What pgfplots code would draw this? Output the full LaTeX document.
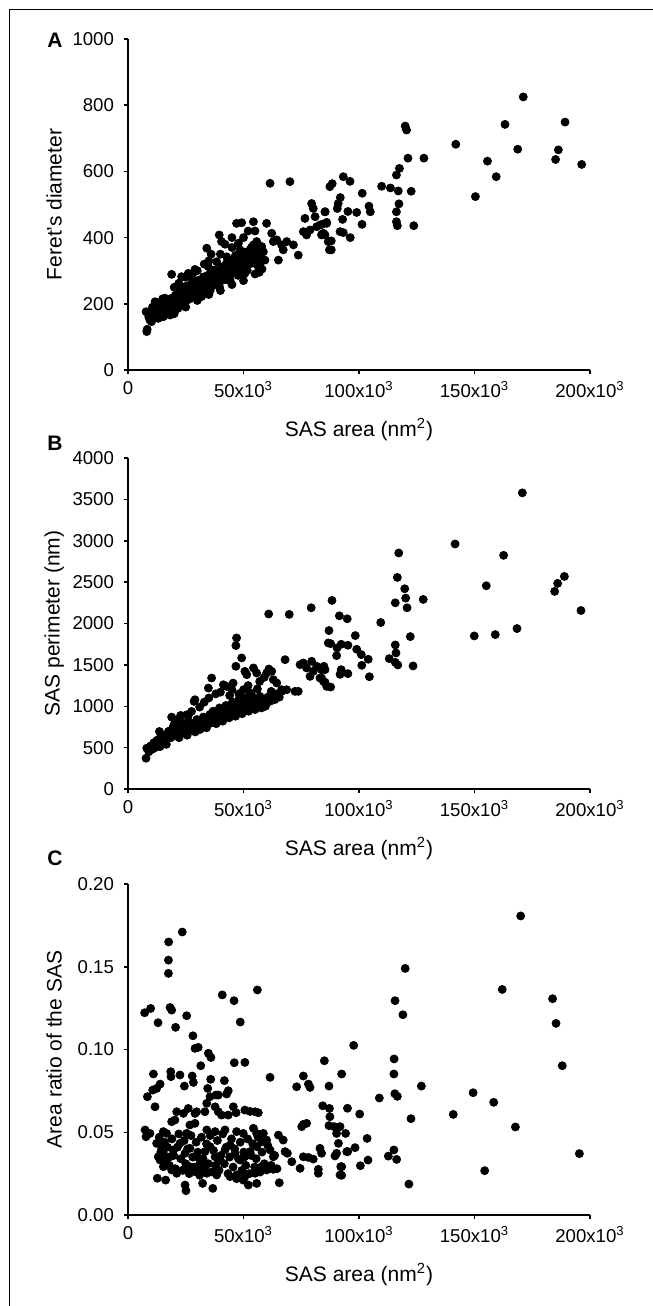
\documentclass[border=0pt]{standalone}
\usepackage{fontspec}
\setmainfont{Liberation Sans}
\usepackage{pgfplots}
\pgfplotsset{compat=1.18}

% 1 px of the reference = 0.5pt
\pgfplotsset{
  panel/.style={
    scale only axis, width=231pt, height=165.5pt,
    axis x line*=bottom, axis y line*=left,
    axis line style={line width=0.75pt, -},
    tick align=outside, major tick length=2pt,
    tick style={line width=0.75pt, black},
    xmin=0, xmax=200, xtick={0,50,100,150,200},
    xticklabels={0, 50x10\textsuperscript{3}, 100x10\textsuperscript{3}, 150x10\textsuperscript{3}, 200x10\textsuperscript{3}},
    tick label style={font=\fontsize{9.3}{10}\selectfont},
    label style={font=\fontsize{10.5}{12}\selectfont},
    xlabel={SAS area (nm\textsuperscript{2})},
    x label style={at={(axis description cs:0.5,-0.181)}, anchor=center},
    y label style={at={(axis description cs:-0.16,0.5)}, anchor=center},
    yticklabel style={xshift=-1.5pt},
    /pgf/number format/assume math mode=true,
    /pgf/number format/1000 sep={},
  },
  dots/.style={only marks, mark=*, mark size=2pt, black},
}

\begin{document}
\begin{tikzpicture}
\useasboundingbox (0,0) rectangle (326.5pt,-653pt);
\draw[line width=0.6pt] (326.5pt,-4.6pt) -- (4.6pt,-4.6pt) -- (4.6pt,-653pt);

\node[font=\fontsize{10.5}{12}\selectfont\bfseries] at (27.5pt,-20pt) {A};
\node[font=\fontsize{10.5}{12}\selectfont\bfseries] at (27.5pt,-221.5pt) {B};
\node[font=\fontsize{10.5}{12}\selectfont\bfseries] at (27.5pt,-429pt) {C};

% ---------------- A ----------------
\begin{axis}[panel, at={(64pt,-185pt)}, anchor=south west,
  ymin=0, ymax=1000, ytick={0,200,...,1000}, ylabel={Feret's diameter}]
\addplot[dots] coordinates {
(171.1,825) (163.2,742) (189.2,749) (141.9,682) (168.7,667) (186.3,665) (185.1,636) (196.4,621)
(155.6,631) (159.4,584) (150.4,524)
(120.0,737) (120.6,725) (121.2,640) (128.1,640) (117.5,609) (116.2,589) (117.0,541) (122.6,540)
(117.3,502) (116.2,478) (116.2,448) (116.6,436) (123.7,436) (113.6,550) (109.8,555) (101.4,534)
(104.3,495) (104.9,478) (101.3,440) (93.2,584) (96.1,570) (88.4,563) (87.4,554) (91.9,521)
(91.0,503) (90.6,488) (85.3,478) (95.2,479) (99.0,476) (92.9,455) (86.0,446) (83.9,440)
(91.8,418) (93.2,415) (83.9,410) (85.3,408) (96.2,400) (88.0,390) (88.0,363)
(8.1,116) (8.3,123) (7.8,176) (9.5,151) (10.2,146) (11.7,206) (12.4,171) (13.9,176) (15.3,161)
(16.7,181) (18.2,166) (16.0,217) (17.5,201) (19.6,191) (21.1,211) (18.9,289) (23.2,282) (22.5,242)
(24.0,232) (26.1,292) (24.7,252) (26.8,222) (28.3,272) (29.0,304) (29.7,242) (31.2,262) (31.9,222)
(33.3,242) (34.1,368) (35.5,272) (36.2,287) (34.8,312) (37.7,302) (38.4,327) (39.5,408) (40.5,388)
(39.1,262) (41.3,312) (42.7,342) (43.4,302) (44.2,272) (44.9,317) (45.6,302) (47.0,332) (47.8,383)
(48.5,363) (49.9,332) (50.6,292) (51.4,312) (52.1,342) (52.8,363) (54.3,378) (55.7,388) (56.4,312)
(57.1,322) (57.9,373) (58.6,357) (59.3,332) (60.0,443) (47.0,443) (49.2,445) (54.3,448) (62.2,413)
(62.9,388) (64.4,393) (65.1,332) (66.5,378) (67.2,363) (68.7,388) (71.6,378) (73.7,347) (75.9,418)
(76.6,458) (77.3,408) (78.8,423) (79.5,503) (80.2,488) (81.0,463) (81.7,433) (83.1,438) (83.8,408)
(84.6,413) (85.3,478) (86.0,443) (86.7,388) (87.2,363) (61.5,564) (70.1,569)
(9.0,160) (10.0,175) (10.6,190) (11.0,158) (11.5,182) (12.0,165) (12.6,196) (13.1,156) (13.5,186)
(14.1,170) (14.6,200) (15.0,178) (15.6,191) (16.2,169) (16.6,206) (17.1,186) (17.8,176) (18.1,196)
(18.6,216) (19.1,181) (19.5,206) (20.1,191) (20.5,226) (21.0,201) (21.6,186) (22.0,216) (23.0,206)
(23.5,231) (24.2,196) (24.6,221) (25.1,241) (25.6,211) (26.0,231) (26.6,256) (27.1,216) (27.5,246)
(28.0,231) (28.6,261) (29.2,221) (29.5,251) (30.1,236) (30.6,271) (31.0,246) (31.6,226) (32.0,256)
(32.6,281) (33.0,241) (33.6,266) (34.0,251) (34.5,286) (35.0,261) (35.6,241) (36.0,276) (36.6,301)
(37.1,256) (37.6,281) (38.0,266) (38.6,296) (39.0,276) (39.6,251) (40.0,286) (40.6,311) (41.0,271)
(41.6,296) (42.0,281) (42.5,321) (43.0,291) (43.6,271) (44.0,306) (44.6,331) (45.0,291) (45.5,316)
(46.0,301) (46.5,346) (47.3,311) (47.6,286) (48.0,321) (48.6,341) (49.0,301) (49.6,326) (50.0,311)
(50.5,356) (51.0,331) (51.6,301) (52.0,346) (53.0,321) (53.5,371) (54.0,336) (55.0,351) (55.5,321)
(56.0,366) (57.0,341) (58.0,305) (56.8,295)
(25.0,280) (30.0,300) (35.0,330) (40.0,350) (45.0,370) (42.0,380) (50.0,400) (52.0,420) (55.0,420)
(45.0,400) (36.0,350) (33.0,320) (28.0,290) (22.0,262) (20.0,250) (15.0,215) (12.0,205)
(20.0,170) (25.0,190) (30.0,210) (35.0,228) (40.0,240) (45.0,258) (50.0,270) (55.0,290)
};
\end{axis}

% ---------------- B ----------------
\begin{axis}[panel, at={(64pt,-394.5pt)}, anchor=south west,
  ymin=0, ymax=4000, ytick={0,500,...,4000}, ylabel={SAS perimeter (nm)}]
\addplot[dots] coordinates {
(170.7,3579) (141.6,2961) (162.6,2824) (155.1,2456) (188.9,2569) (186.0,2485) (184.7,2388) (196.1,2157)
(149.9,1850) (159.0,1866) (168.4,1939)
(117.2,2852) (116.6,2557) (119.8,2420) (120.2,2307) (115.7,2250) (120.8,2190) (127.8,2291) (109.4,2012)
(122.2,1842) (115.7,1741) (116.0,1644) (113.1,1576) (115.7,1531) (116.8,1499) (123.4,1487)
(88.3,2279) (91.5,2093) (94.9,2057) (87.0,1915) (98.4,1854) (87.7,1757) (90.3,1612) (90.5,1705)
(92.3,1749) (95.2,1737) (99.0,1689) (101.0,1624) (104.0,1568) (101.2,1495) (104.5,1357) (92.3,1442)
(91.8,1386) (95.2,1394) (84.8,1483) (85.3,1442) (83.8,1341) (85.3,1289) (87.7,1232)
(60.9,2115) (69.8,2110) (79.3,2190)
(7.8,372) (8.1,493) (9.5,473) (12.4,554) (11.0,533) (13.9,513) (18.9,869) (22.8,889) (13.6,695)
(17.5,695) (19.6,755) (21.1,836) (24.0,796) (25.4,897) (27.5,937) (29.0,1079) (28.6,1059) (34.8,1220)
(36.2,1341) (41.3,1260) (42.7,1240) (47.0,1826) (46.7,1733) (49.2,1584) (46.7,1483) (50.6,1422)
(51.4,1382) (54.3,1463) (55.7,1402) (60.0,1402) (62.2,1422) (68.0,1563) (62.9,1321) (64.4,1281)
(66.5,1200) (68.7,1200) (72.3,1180) (73.7,1180) (74.5,1503) (75.9,1523) (77.3,1463) (79.5,1543)
(80.2,1422) (78.8,1361) (81.7,1483) (83.8,1442) (84.6,1301) (86.0,1240) (83.1,1341) (86.7,1765)
(9.0,450) (9.8,520) (10.5,480) (11.2,560) (11.8,500) (12.6,590) (13.2,530) (14.0,620) (14.7,560)
(15.3,650) (16.0,600) (16.6,540) (17.3,640) (18.0,700) (18.6,620) (19.3,680) (20.0,650) (20.7,730)
(21.4,670) (22.1,620) (22.8,720) (23.5,680) (24.2,760) (24.9,700) (25.6,650) (26.3,740) (27.0,800)
(27.7,710) (28.4,770) (29.1,690) (29.8,840) (30.5,760) (31.2,720) (31.9,810) (32.6,870) (33.3,780)
(34.0,740) (34.7,850) (35.4,900) (36.1,800) (36.8,940) (37.5,860) (38.2,790) (38.9,910) (39.6,980)
(40.3,870) (41.0,820) (41.7,950) (42.4,1010) (43.1,900) (43.8,860) (44.5,980) (45.2,1050) (45.9,930)
(46.6,880) (47.3,1000) (48.0,1080) (48.7,950) (49.4,910) (50.1,1030) (50.8,1100) (51.5,980) (52.2,940)
(52.9,1060) (53.6,1130) (54.3,1010) (55.0,960) (55.7,1080) (56.4,1000) (57.1,1120) (57.8,980)
(58.6,1050) (59.5,1000) (60.5,1110) (61.5,1060) (62.5,1130) (63.5,1080) (64.5,1150) (65.5,1110)
(66.5,1180) (38.0,1150) (40.0,1170) (44.0,1130) (45.0,1200) (48.0,1150) (50.0,1200) (52.0,1250)
(53.0,1160) (56.0,1210) (57.0,1300) (45.5,1280) (59.0,1350) (61.0,1450) (62.0,1180) (64.0,1120)
(35.0,1100) (33.0,1050) (31.0,990) (26.0,880) (23.0,800) (20.0,780)
};
\end{axis}

% ---------------- C ----------------
\begin{axis}[panel, at={(64pt,-607.5pt)}, anchor=south west,
  ymin=0, ymax=0.2, ytick={0,0.05,0.1,0.15,0.2}, ylabel={Area ratio of the SAS},
  yticklabel style={/pgf/number format/fixed, /pgf/number format/fixed zerofill, /pgf/number format/precision=2}]
\addplot[dots] coordinates {
(170.0,0.1807) (120.0,0.149) (162.0,0.1363) (183.8,0.1307) (185.3,0.1158) (188.0,0.0902) (115.6,0.1295)
(119.0,0.121) (97.7,0.1025) (115.2,0.0943) (115.1,0.0852) (92.5,0.0852) (127.0,0.0779) (149.4,0.0739)
(158.3,0.0681) (140.8,0.0608) (167.7,0.0532) (195.4,0.0371) (154.4,0.0268) (108.8,0.0707) (115.5,0.0733)
(116.6,0.0717) (122.5,0.0582) (95.0,0.0645) (100.3,0.061) (91.8,0.0534) (94.2,0.0493) (103.5,0.0463)
(98.3,0.0407) (95.1,0.0383) (115.1,0.0393) (112.7,0.0356) (116.3,0.0336) (103.9,0.0332) (100.6,0.0298)
(92.5,0.0292) (92.5,0.024) (121.6,0.0187)
(17.6,0.165) (23.5,0.171) (17.5,0.154) (17.5,0.146)
(56.0,0.136) (40.8,0.133) (45.9,0.1295) (48.6,0.1166) (7.2,0.1222) (9.8,0.1248) (13.0,0.1162) (18.2,0.1254)
(18.9,0.1238) (25.4,0.1204) (20.6,0.1134) (28.1,0.1083) (29.0,0.1007) (30.4,0.1013) (34.8,0.0977)
(35.9,0.0952) (31.5,0.0902) (46.0,0.092) (50.6,0.0922) (61.5,0.0832) (11.0,0.0852) (18.5,0.0866)
(18.6,0.0836) (22.5,0.0846) (27.8,0.084) (28.3,0.0801) (24.4,0.0779) (35.8,0.082) (41.7,0.0812)
(43.4,0.0751) (42.7,0.0731) (12.4,0.0765) (13.9,0.0791) (10.7,0.0755) (8.4,0.0715) (11.7,0.0654)
(34.5,0.0765) (35.5,0.0715) (38.1,0.0725) (39.1,0.0725) (34.1,0.0675) (33.3,0.0624) (37.7,0.0654)
(39.1,0.0624) (40.5,0.0604) (43.4,0.0604) (45.6,0.0654) (46.8,0.0618) (50.6,0.0634) (52.8,0.0626)
(55.0,0.0624) (56.4,0.0618) (21.1,0.0624) (24.0,0.0614) (26.1,0.0644) (29.0,0.0614) (29.7,0.0624)
(18.9,0.0564) (20.3,0.0574) (26.8,0.0544) (29.0,0.0554) (7.4,0.0514) (7.8,0.0473) (9.5,0.0493)
(15.3,0.0504) (16.7,0.0493) (25.4,0.0493) (34.1,0.0514) (37.7,0.0504) (42.0,0.0514) (47.0,0.0504)
(49.9,0.0493) (54.3,0.0524) (55.7,0.0493)
(12.4,0.0433) (14.6,0.0403) (15.3,0.0373) (16.7,0.0332) (18.2,0.0352) (19.6,0.0393) (22.5,0.0433)
(24.7,0.0373) (26.8,0.0403) (29.7,0.0352) (31.2,0.0312) (33.3,0.0383) (35.5,0.0413) (37.7,0.0352)
(39.8,0.0332) (42.0,0.0393) (44.2,0.0423) (46.3,0.0373) (48.5,0.0332) (50.6,0.0352) (52.8,0.0383)
(55.7,0.0413) (57.9,0.0443) (60.0,0.0453) (61.5,0.0393) (62.9,0.0352) (65.1,0.0483) (67.2,0.0453)
(58.6,0.0493)
(12.7,0.0222) (16.3,0.0211) (24.7,0.0181) (25.1,0.0147) (32.3,0.0191) (36.7,0.0161) (52.1,0.0181)
(55.7,0.0191) (65.5,0.0195) (34.1,0.0252) (38.4,0.0242) (44.2,0.0232) (47.0,0.0242) (49.9,0.0211)
(50.6,0.0232) (55.0,0.0252) (57.9,0.0292) (60.0,0.0272) (62.9,0.0276) (21.1,0.0252) (24.0,0.0272)
(26.8,0.0292) (29.0,0.0262) (31.2,0.0282) (18.9,0.0272) (15.3,0.0292) (13.9,0.0332) (13.1,0.0352)
(73.0,0.0775) (75.9,0.084) (78.1,0.0791) (78.8,0.0771) (85.0,0.0932) (87.0,0.0779) (84.3,0.066)
(87.2,0.0644) (87.4,0.0594) (87.0,0.054) (75.9,0.0548) (77.3,0.0554) (75.2,0.0534) (70.9,0.0322)
(74.5,0.0282) (75.9,0.0352) (78.1,0.0348) (80.2,0.0338) (83.1,0.0403) (83.8,0.0373) (82.4,0.0276)
(82.4,0.0252) (90.3,0.0493) (91.1,0.0433) (90.3,0.0373) (89.6,0.0357) (92.1,0.0292) (91.8,0.0242)
(94.7,0.0383) (89.2,0.0534) (90.3,0.0524) (68.0,0.0383) (69.0,0.0373)
(13.5,0.047) (14.2,0.038) (15.8,0.044) (16.3,0.035) (17.1,0.041) (17.9,0.030) (19.0,0.046) (19.8,0.036)
(20.5,0.028) (21.4,0.041) (22.0,0.049) (22.8,0.034) (23.6,0.027) (24.3,0.045) (25.0,0.031) (25.8,0.040)
(26.5,0.025) (27.3,0.048) (28.0,0.035) (28.8,0.029) (29.5,0.044) (30.2,0.038) (31.0,0.024) (31.8,0.047)
(32.5,0.034) (33.2,0.028) (34.0,0.043) (34.8,0.031) (35.6,0.048) (36.3,0.026) (37.0,0.039) (37.9,0.030)
(38.7,0.045) (39.4,0.027) (40.2,0.036) (41.0,0.049) (41.7,0.031) (42.5,0.041) (43.3,0.025) (44.0,0.035)
(44.8,0.046) (45.5,0.029) (46.2,0.040) (47.0,0.022) (47.8,0.034) (48.6,0.044) (49.3,0.027) (50.1,0.038)
(51.0,0.030) (51.8,0.046) (52.5,0.025) (53.3,0.036) (54.0,0.043) (54.8,0.029) (55.5,0.034) (56.3,0.047)
(57.2,0.026) (58.0,0.038) (59.0,0.031) (60.5,0.042) (62.0,0.030) (63.5,0.036) (64.5,0.028)
};
\end{axis}
\end{tikzpicture}
\end{document}
